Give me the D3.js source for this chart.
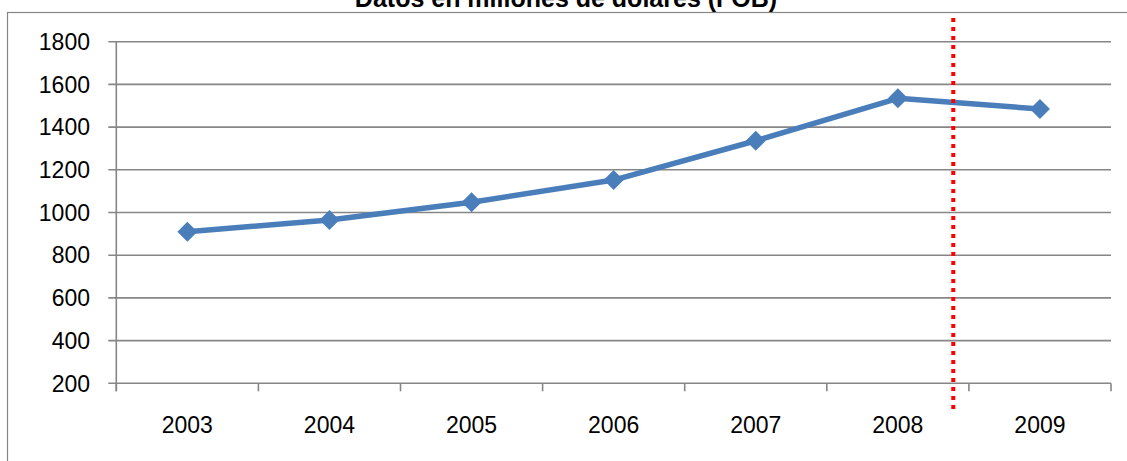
<!DOCTYPE html>
<html>
<head>
<meta charset="utf-8">
<script src="https://cdn.jsdelivr.net/npm/d3@7/dist/d3.min.js"></script>
<style>
  html, body { margin: 0; padding: 0; background: #fff; overflow: hidden; }
  svg { display: block; font-family: "Liberation Sans", Arial, sans-serif; }
</style>
</head>
<body>
<div id="chart"></div>
<script>
// data
var years = ['2003', '2004', '2005', '2006', '2007', '2008', '2009']
var values = [910, 965, 1048, 1152, 1336, 1535, 1485]
var yTicks = [200, 400, 600, 800, 1000, 1200, 1400, 1600, 1800]
var title = 'Datos en millones de dolares (FOB)'

var width = 1127, height = 461
var margin = { top: 41.7, right: 16, bottom: 77.7, left: 116.3 }
var gray = '#868686'
var blue = '#4a7ebb'

var svg = d3.select('#chart').append('svg')
            .attr('width', width)
            .attr('height', height)

// outer chart frame (runs off the right and bottom edges)
svg.append('rect')
   .attr('x', 7.5).attr('y', 12.5)
   .attr('width', 1300).attr('height', 600)
   .attr('fill', 'none')
   .attr('stroke', gray)
   .attr('stroke-width', 1.2)

// title sits mostly above the visible area, as in the source
svg.append('text')
   .attr('x', 566).attr('y', 7)
   .attr('text-anchor', 'middle')
   .attr('font-weight', 'bold')
   .attr('font-size', 25)
   .attr('fill', '#000')
   .text(title)

var x = d3.scaleBand()
          .domain(years)
          .range([margin.left, width - margin.right])
          .padding(0)
var y = d3.scaleLinear()
          .domain([200, 1800])
          .range([height - margin.bottom, margin.top])

// gridlines + y ticks
var yAxis = svg.append('g')
yAxis.selectAll('line.grid')
     .data(yTicks)
     .enter().append('line')
     .attr('class', 'grid')
     .attr('x1', margin.left - 8)
     .attr('x2', width - margin.right)
     .attr('y1', function(d) { return y(d) })
     .attr('y2', function(d) { return y(d) })
     .attr('stroke', gray)
     .attr('stroke-width', 1.6)

yAxis.selectAll('text')
     .data(yTicks)
     .enter().append('text')
     .attr('x', 90)
     .attr('y', function(d) { return y(d) })
     .attr('dy', '0.36em')
     .attr('text-anchor', 'end')
     .attr('font-size', 23)
     .attr('fill', '#000')
     .text(function(d) { return d })

// vertical axis line
svg.append('line')
   .attr('x1', margin.left).attr('x2', margin.left)
   .attr('y1', y(1800)).attr('y2', y(200) + 8)
   .attr('stroke', gray)
   .attr('stroke-width', 1.6)

// x ticks at category boundaries
var bounds = years.map(function(d) { return x(d) }).concat([x.range()[1]])
svg.append('g').selectAll('line')
   .data(bounds)
   .enter().append('line')
   .attr('x1', function(d) { return d })
   .attr('x2', function(d) { return d })
   .attr('y1', y(200))
   .attr('y2', y(200) + 8)
   .attr('stroke', gray)
   .attr('stroke-width', 1.6)

svg.append('g').selectAll('text')
   .data(years)
   .enter().append('text')
   .attr('x', function(d) { return x(d) + x.bandwidth() / 2 })
   .attr('y', 433.3)
   .attr('text-anchor', 'middle')
   .attr('font-size', 23)
   .attr('fill', '#000')
   .text(function(d) { return d })

// series line
var points = years.map(function(d, i) { return { year: d, value: values[i] } })
var line = d3.line()
             .x(function(d) { return x(d.year) + x.bandwidth() / 2 })
             .y(function(d) { return y(d.value) })

svg.append('path')
   .datum(points)
   .attr('d', line)
   .attr('fill', 'none')
   .attr('stroke', blue)
   .attr('stroke-width', 5.5)
   .attr('stroke-linejoin', 'round')

svg.append('g').selectAll('path')
   .data(points)
   .enter().append('path')
   .attr('transform', function(d) {
     return 'translate(' + (x(d.year) + x.bandwidth() / 2) + ',' + y(d.value) + ')'
   })
   .attr('d', 'M0,-10L10,0L0,10L-10,0Z')
   .attr('fill', blue)

// red dotted cut-off line, late in 2008
var cutX = x('2008') + x.bandwidth() * 0.89
svg.append('line')
   .attr('x1', cutX).attr('x2', cutX)
   .attr('y1', 18).attr('y2', 413)
   .attr('stroke', '#ff0000')
   .attr('stroke-width', 4)
   .attr('stroke-dasharray', '4 5')
</script>
</body>
</html>
